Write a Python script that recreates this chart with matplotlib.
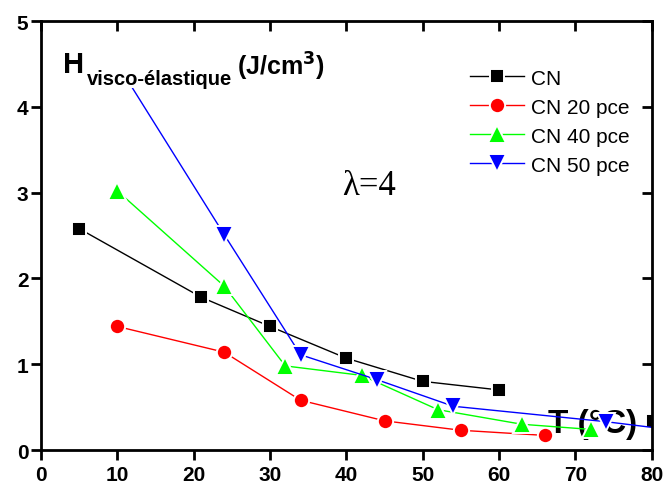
import matplotlib.pyplot as plt
from matplotlib.patches import Rectangle

# values
T_cn = [5, 21, 30, 40, 50, 60]
H_cn = [2.58, 1.78, 1.44, 1.07, 0.80, 0.70]
T_cn_extra = [80.2]          # clipped marker on the right spine
H_cn_extra = [0.34]

T_cn20 = [10, 24, 34, 45, 55, 66]
H_cn20 = [1.44, 1.14, 0.58, 0.34, 0.23, 0.17]

T_cn40 = [10, 24, 32, 42, 52, 63, 72]
H_cn40 = [3.02, 1.91, 0.98, 0.87, 0.47, 0.30, 0.24]

T_cn50 = [10, 24, 34, 44, 54, 74, 84]
H_cn50 = [4.5, 2.51, 1.11, 0.82, 0.51, 0.33, 0.22]

x_ticks = list(range(0, 81, 10))
y_ticks = list(range(0, 6))

plt.rcParams["font.family"] = ["Liberation Sans", "DejaVu Sans"]

fig = plt.figure(figsize=(6.65, 4.85), dpi=100)
ax = fig.add_axes([0.0617, 0.0701, 0.9183, 0.8845])

common = dict(lw=1.0, mec="white", mew=1.4, zorder=2)
ax.plot(T_cn, H_cn, color="black", marker="s", ms=10, label="CN", **common)
ax.plot(T_cn_extra, H_cn_extra, ls="none", color="black", marker="s", ms=10, mec="white", mew=1.4, zorder=2)
ax.plot(T_cn20, H_cn20, color="#FF0000", marker="o", ms=11, label="CN 20 pce", **common)
ax.plot(T_cn40, H_cn40, color="#00FF00", marker="^", ms=13, label="CN 40 pce", **common)
ax.plot(T_cn50, H_cn50, color="#0000FF", marker="v", ms=13, label="CN 50 pce", **common)

ax.set_xlim(0, 80)
ax.set_ylim(0, 5)
ax.set_xticks(x_ticks)
ax.set_yticks(y_ticks)

for s in ax.spines.values():
    s.set_linewidth(2)
ax.tick_params(axis="both", which="major", direction="out", length=7, width=2,
               labelsize=15)
ax.tick_params(axis="x", pad=4)
ax.tick_params(axis="y", pad=2)
for lab in ax.get_xticklabels() + ax.get_yticklabels():
    lab.set_fontweight("bold")
# inward ticks on the top and right
axt = ax.secondary_xaxis("top")
axt.set_xticks(x_ticks)
axt.tick_params(direction="in", length=7, width=2, labeltop=False)
axr = ax.secondary_yaxis("right")
axr.set_yticks(y_ticks)
axr.tick_params(direction="in", length=7, width=2, labelright=False)

# y-axis title placed inside the frame, on a white patch
ax.add_patch(Rectangle((2.5, 4.22), 37, 0.6, facecolor="white", edgecolor="none", zorder=3))
ax.text(2.9, 4.40, "H", fontsize=21, fontweight="bold", va="baseline", zorder=4)
ax.text(6.0, 4.27, "visco-élastique", fontsize=14.5, fontweight="bold", va="baseline", zorder=4)
ax.text(25.7, 4.38, "(J/cm$^\\mathbf{3}$)", fontsize=18, fontweight="bold", va="baseline", zorder=4)

ax.text(66.4, 0.21, "T (°C)", fontsize=24, fontweight="bold", va="baseline", zorder=1)
ax.text(39.4, 2.98, "λ=4", fontsize=25, family=["Liberation Serif", "DejaVu Serif"], va="baseline")

ax.legend(loc="upper left", bbox_to_anchor=(0.702, 0.889), frameon=False, fontsize=15,
          handlelength=2.6, handletextpad=0.33, labelspacing=0.48, borderpad=0, borderaxespad=0)

fig.savefig("out.png", dpi=100)
